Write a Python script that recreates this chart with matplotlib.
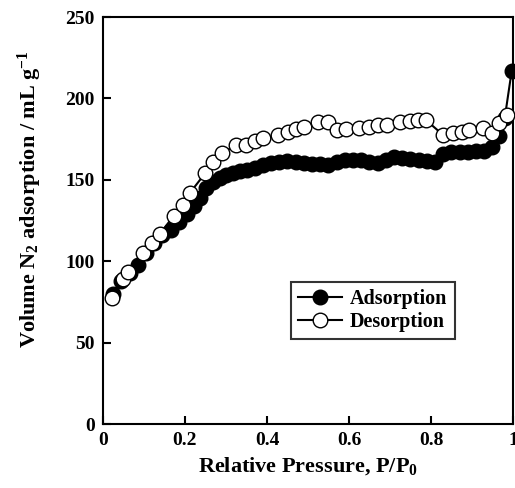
import matplotlib
matplotlib.use('Agg')
from matplotlib import pyplot as plt

# N2 isotherm, values
ads_p = [0.025, 0.045, 0.065, 0.085, 0.105, 0.125, 0.145, 0.165, 0.185, 0.205,
         0.222, 0.237, 0.252, 0.268, 0.285, 0.300, 0.318, 0.335, 0.352, 0.370,
         0.390, 0.410, 0.430, 0.450, 0.470, 0.490, 0.510, 0.530, 0.550, 0.570,
         0.590, 0.610, 0.630, 0.650, 0.670, 0.690, 0.710, 0.730, 0.750, 0.770,
         0.790, 0.810, 0.830, 0.850, 0.870, 0.890, 0.910, 0.930, 0.950, 0.965,
         0.980, 0.997]
ads_v = [80, 88, 93, 98, 105, 111, 116, 119, 124, 129,
         134, 139, 145, 149, 151, 153, 154.5, 155.5, 156, 157,
         159, 160.5, 161, 161.5, 161, 160.5, 160, 159.5, 159, 161,
         162, 162.5, 162, 161, 160.5, 162, 164, 163.5, 163, 162.5,
         161.5, 161, 166, 167, 167, 167, 167.5, 168, 170, 177,
         188, 217]

des_p = [0.023, 0.048, 0.062, 0.098, 0.119, 0.139, 0.173, 0.194, 0.212, 0.249,
         0.269, 0.290, 0.324, 0.350, 0.371, 0.391, 0.428, 0.452, 0.472, 0.490,
         0.525, 0.548, 0.570, 0.592, 0.625, 0.650, 0.672, 0.692, 0.724, 0.749,
         0.769, 0.788, 0.830, 0.853, 0.875, 0.893, 0.926, 0.950, 0.967, 0.986]
des_v = [77.6, 88.9, 93.6, 105, 111, 117, 128, 134.5, 142, 154,
         161, 166.3, 171.4, 171.4, 174, 175.5, 177.5, 179.2, 181, 182.6,
         185.7, 185.7, 180.6, 181.2, 181.6, 182.6, 183.7, 183.7, 185.7, 186.3,
         186.7, 186.7, 177.5, 178.6, 179.6, 180.6, 181.6, 178.6, 184.7, 189.8]

xticks = [0, 0.2, 0.4, 0.6, 0.8, 1.0]
xtick_labels = ['0', '0.2', '0.4', '0.6', '0.8', '1']
yticks = [0, 50, 100, 150, 200, 250]

plt.rcParams['font.family'] = 'Liberation Serif'
plt.rcParams['font.weight'] = 'bold'
plt.rcParams['mathtext.fontset'] = 'custom'
plt.rcParams['mathtext.rm'] = 'Liberation Serif:bold'
plt.rcParams['mathtext.it'] = 'Liberation Serif:bold'
plt.rcParams['mathtext.bf'] = 'Liberation Serif:bold'
plt.rcParams['mathtext.default'] = 'rm'

fig = plt.figure(figsize=(5.15, 4.88), dpi=100)
ax = fig.add_axes([0.2, 0.131, 0.796, 0.834])

ax.plot(ads_p, ads_v, '-o', color='black', mfc='black', mec='black',
        ms=10.5, lw=1.5, label='Adsorption', clip_on=False, zorder=3)
ax.plot(des_p, des_v, '-o', color='black', mfc='white', mec='black',
        ms=10.5, lw=1.5, mew=1.0, label='Desorption', clip_on=False, zorder=4)

ax.set_xlim(0, 1)
ax.set_ylim(0, 250)
ax.set_xticks(xticks)
ax.set_xticklabels(xtick_labels)
ax.set_yticks(yticks)
ax.tick_params(direction='in', length=6, width=1.5, labelsize=14, pad=6)
for sp in ax.spines.values():
    sp.set_linewidth(1.5)

ax.set_xlabel('Relative Pressure, P/P$_0$', fontsize=16, fontweight='bold', labelpad=4)
ax.set_ylabel('Volume N$_2$ adsorption / mL g$^{-1}$', fontsize=16, fontweight='bold')
ax.yaxis.set_label_coords(-0.143, 0.553)

leg = ax.legend(loc='lower left', bbox_to_anchor=(0.458, 0.208), fontsize=14.5,
                frameon=True, fancybox=False, edgecolor='black',
                handlelength=2.2, borderpad=0.35, labelspacing=0.15, handletextpad=0.4,
                borderaxespad=0.0)
leg.get_frame().set_linewidth(1.5)

fig.savefig('out.png', dpi=100)
